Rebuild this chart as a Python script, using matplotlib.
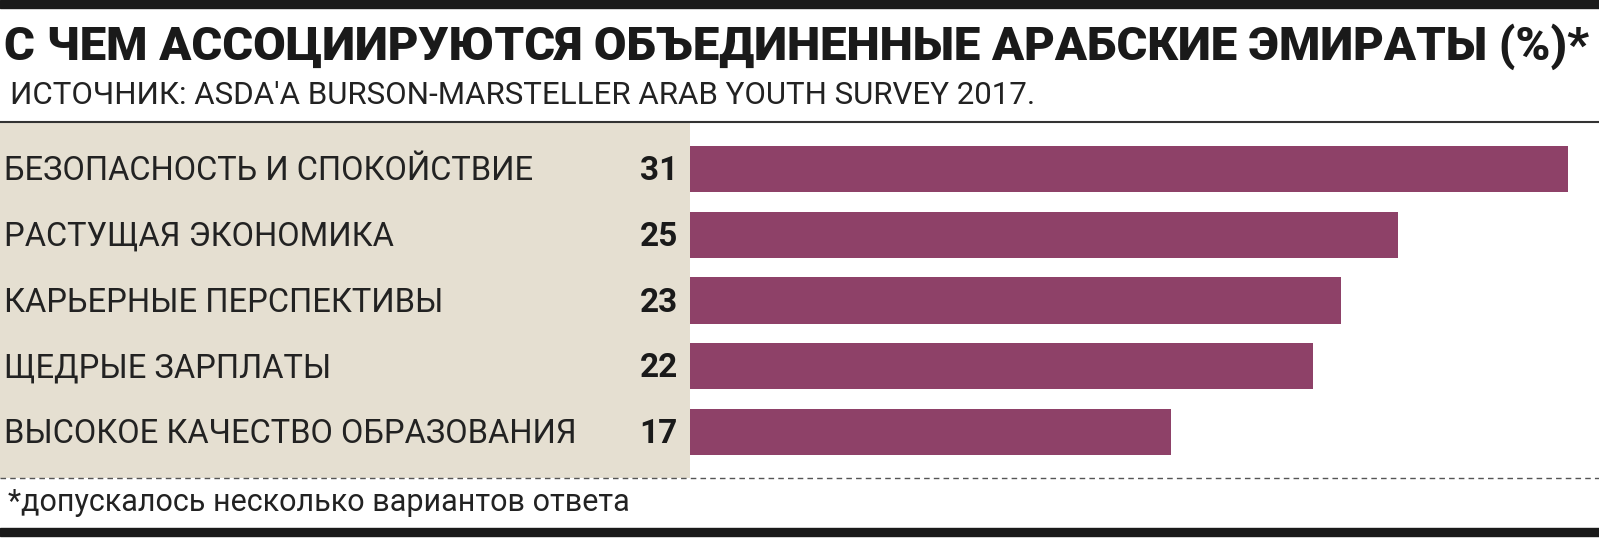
import matplotlib
matplotlib.use("Agg")
import matplotlib.pyplot as plt
from matplotlib.patches import Rectangle

title = "С ЧЕМ АССОЦИИРУЮТСЯ ОБЪЕДИНЕННЫЕ АРАБСКИЕ ЭМИРАТЫ (%)*"
source = "ИСТОЧНИК: ASDA'A BURSON-MARSTELLER ARAB YOUTH SURVEY 2017."
note = "*допускалось несколько вариантов ответа"
categories = ["БЕЗОПАСНОСТЬ И СПОКОЙСТВИЕ", "РАСТУЩАЯ ЭКОНОМИКА",
              "КАРЬЕРНЫЕ ПЕРСПЕКТИВЫ", "ЩЕДРЫЕ ЗАРПЛАТЫ",
              "ВЫСОКОЕ КАЧЕСТВО ОБРАЗОВАНИЯ"]
values = [31, 25, 23, 22, 17]

W, H = 1599, 542
fig = plt.figure(figsize=(W / 100, H / 100), dpi=100)
bg = fig.add_axes([0, 0, 1, 1])
bg.set_xlim(0, W)
bg.set_ylim(H, 0)
bg.axis("off")

bg.add_patch(Rectangle((0, 0), W, 8, color="#1a1a1a"))
bg.add_patch(Rectangle((0, 123), 690, 355, color="#e5dfd1", lw=0))
bg.plot([0, W], [122, 122], color="#333333", lw=1.5)
bg.plot([0, W], [478, 478], color="#555555", lw=1, ls=(0, (4, 3)))
bg.add_patch(Rectangle((0, 528), W, 8, color="#1a1a1a"))

bg.text(4, 60, title, fontsize=34, fontweight="black", family="Roboto",
        color="#1a1a1a", va="baseline")
bg.text(10, 104, source, fontsize=22.5, family="Roboto", color="#222222",
        va="baseline")
bg.text(8, 511, note, fontsize=22, family="Roboto", color="#222222",
        va="baseline")

# bar area: x 690..1568 px, rows centred at y 169..432
ax = fig.add_axes([690 / W, 1 - 465 / H, (1568 - 690) / W, (465 - 136) / H])
ax.set_xlim(0, max(values))
ax.set_ylim(len(values) - 0.5, -0.5)
ax.axis("off")
ax.barh(range(len(values)), values, height=0.7, color="#8e4168")
for i, (c, v) in enumerate(zip(categories, values)):
    y = 1 - (138 + (i + 0.5) * (465 - 136) / len(values)) / H
    fig.text(4 / W, y, c, fontsize=23.5, family="Roboto", color="#222222",
             va="center")
    fig.text(678 / W, y, str(v), fontsize=24, fontweight="bold",
             family="Roboto", color="#1a1a1a", va="center", ha="right")

fig.savefig("out.png", dpi=100)
